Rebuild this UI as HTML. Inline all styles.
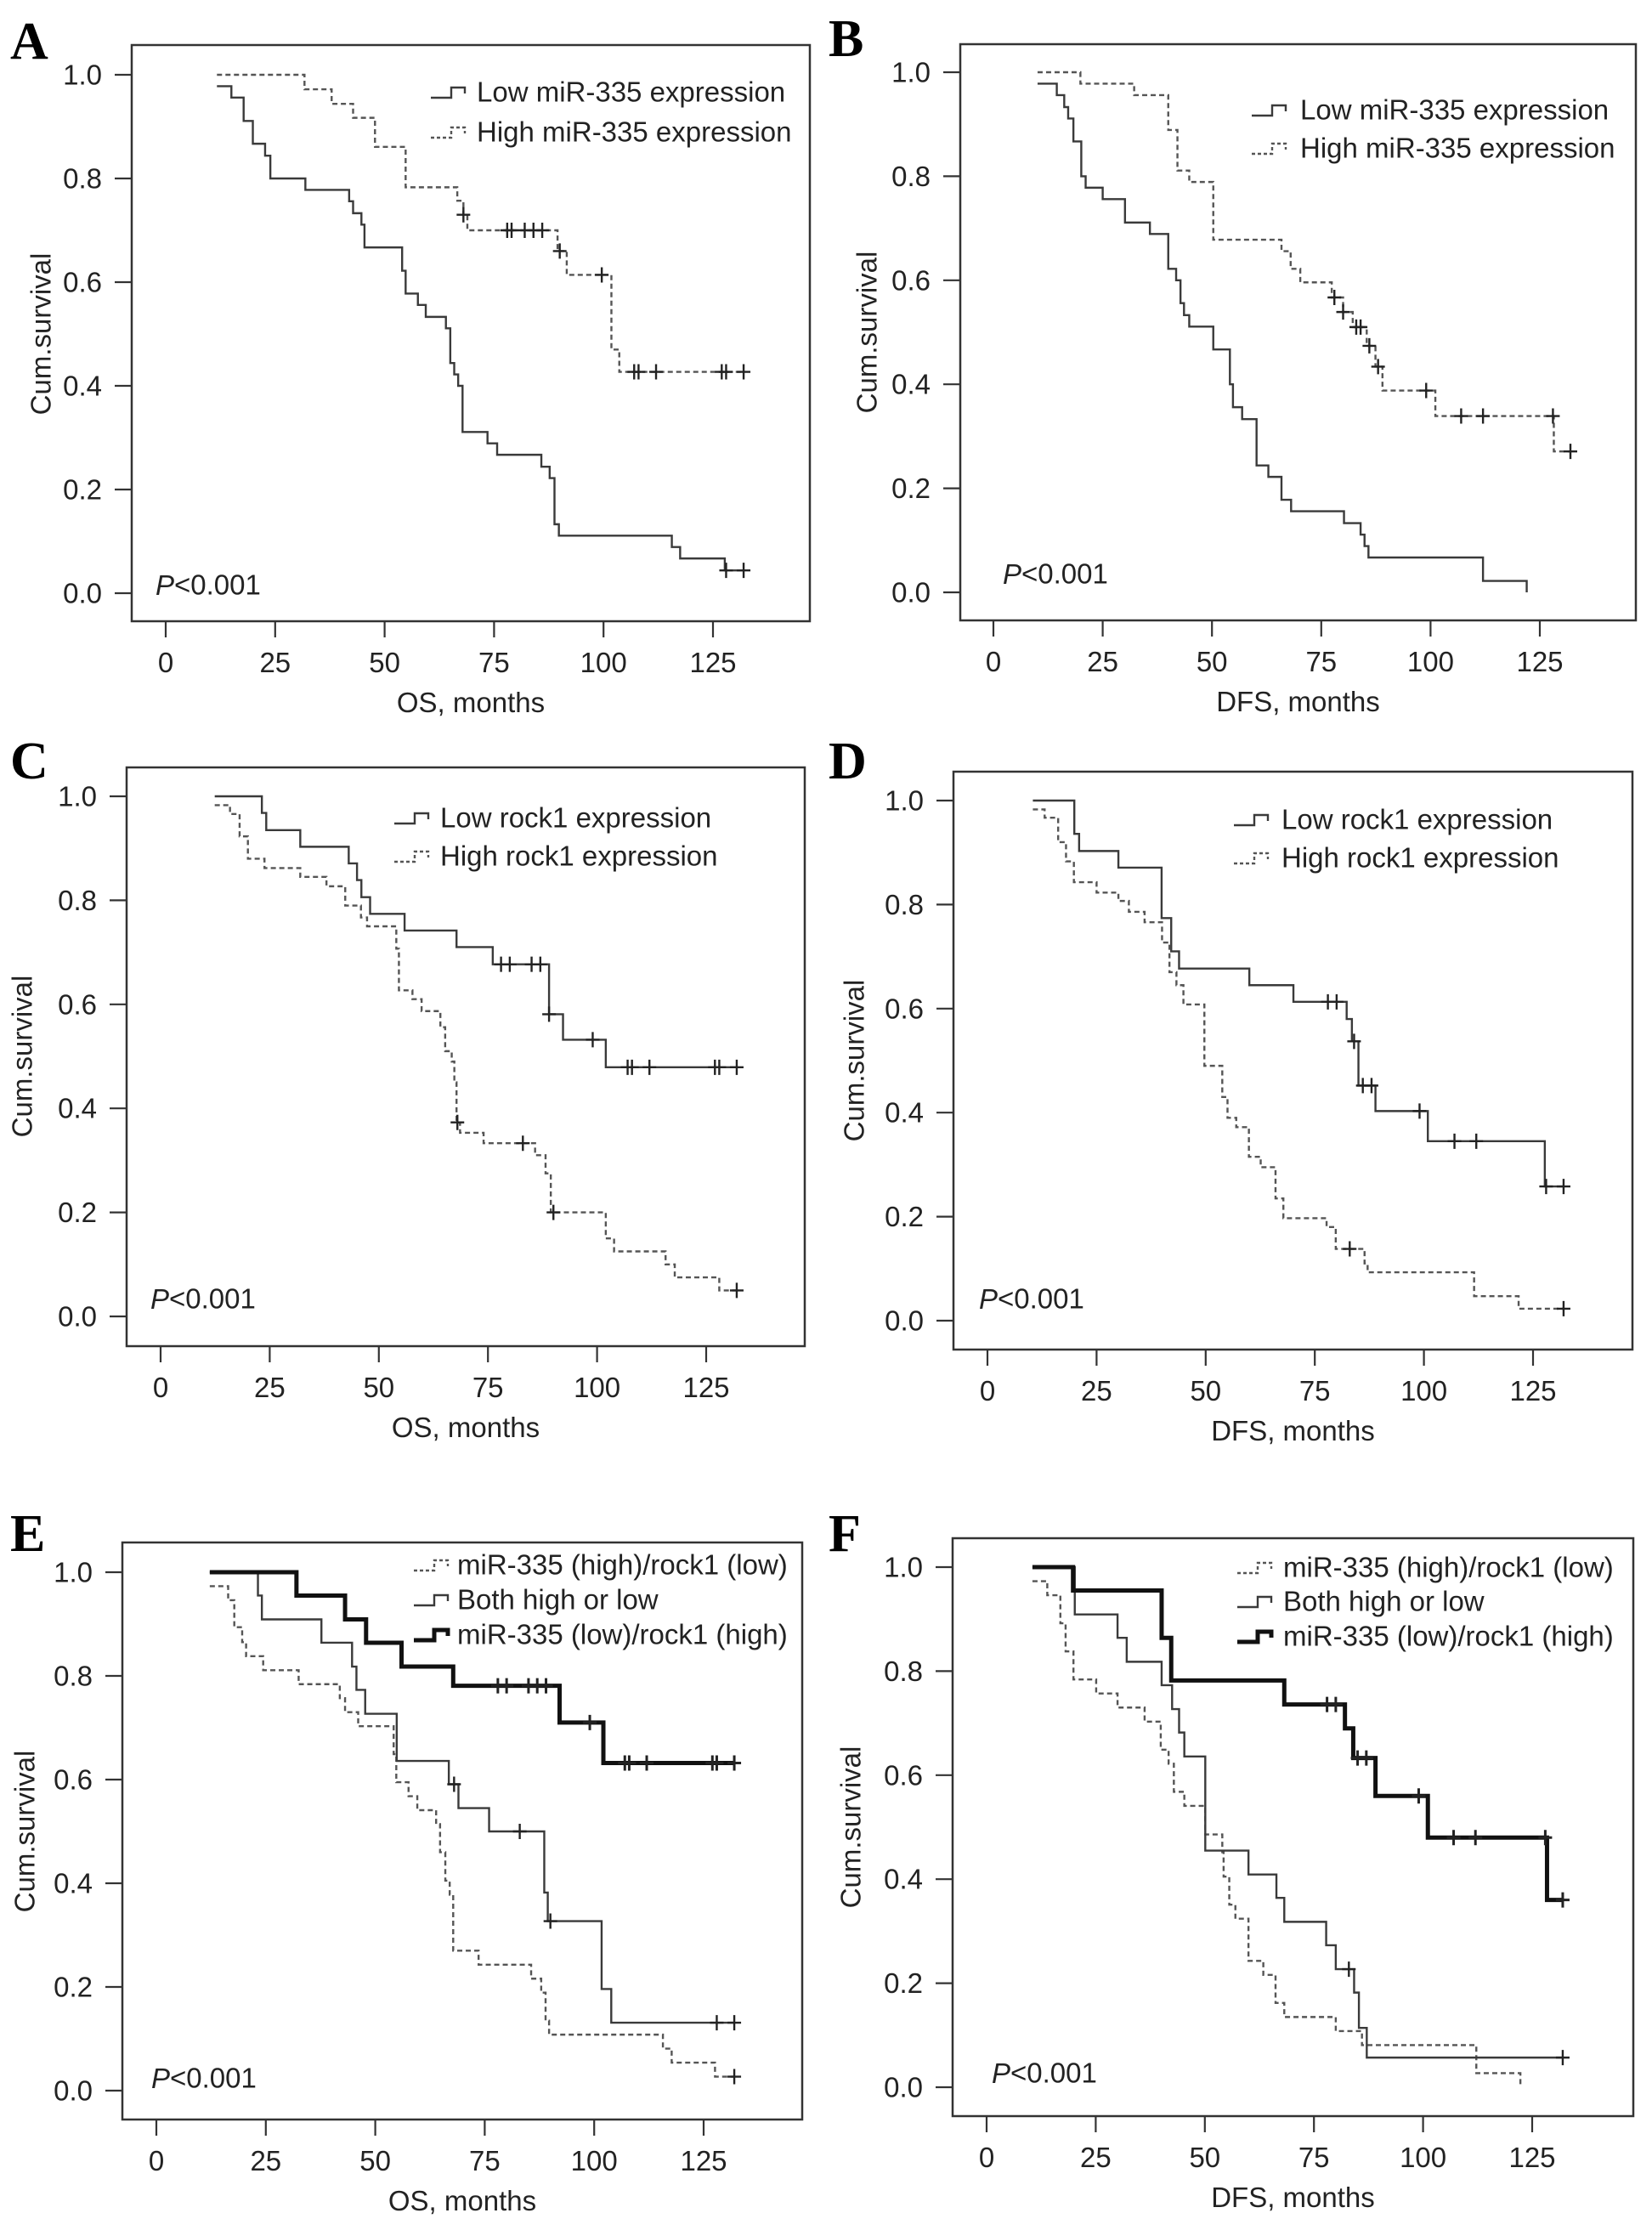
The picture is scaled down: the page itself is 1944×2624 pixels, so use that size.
<!DOCTYPE html>
<html><head><meta charset="utf-8"><style>
html,body{margin:0;padding:0;background:#fff;}
svg{display:block;font-family:"Liberation Sans",sans-serif;}
</style></head><body>
<svg id="fig" width="1944" height="2624" viewBox="0 0 1944 2624" xmlns="http://www.w3.org/2000/svg"></svg>
<script>
// ---- Data (months, survival) ----
const xTicks=[0,25,50,75,100,125];
const yTicks=[0.0,0.2,0.4,0.6,0.8,1.0];
// Panel A
const aLowT=[11.7,15,17.8,19.9,22.7,23.9,31.9,41.9,42.8,44.7,45.4,54,54.8,57.6,59.4,64,65,65.9,66.8,67.8,73.5,75.7,85.8,87.7,88.8,89.8,115.6,117.5,127.7];
const aLowS=[0.978,0.956,0.911,0.867,0.844,0.80,0.778,0.756,0.733,0.711,0.667,0.622,0.578,0.556,0.533,0.511,0.444,0.422,0.40,0.311,0.289,0.267,0.244,0.222,0.133,0.111,0.089,0.067,0.044];
const aLowC=[128,132];
const aHighT=[11.7,31.7,37.9,42.8,47.8,54.8,66.6,68,68.9,89.5,91.6,101.8,103.6];
const aHighS=[1.0,0.972,0.944,0.917,0.861,0.783,0.757,0.73,0.70,0.66,0.614,0.47,0.427];
const aHighC=[68,78,79,82,84,86,90,99.6,107,108,112,127,128,132];
// Panel B
const bLowT=[10.1,14.5,16.2,17.1,18.3,20.1,21.1,25,30.1,35.8,40,41.8,42.8,43.6,44.8,50.3,54.1,54.8,56.9,60.2,62.9,65.9,68.1,80.2,84,84.9,85.8,112,122];
const bLowS=[0.978,0.956,0.933,0.911,0.867,0.80,0.778,0.756,0.711,0.689,0.622,0.60,0.556,0.533,0.511,0.467,0.40,0.356,0.333,0.244,0.222,0.178,0.156,0.133,0.111,0.089,0.067,0.022,0.0];
const bLowC=[];
const bHighT=[10.1,19.9,32.2,40,42.1,44.8,50.3,65.9,68,70.2,77.4,80,82.2,85.4,87.4,89,101.1,128.2];
const bHighS=[1.0,0.978,0.956,0.889,0.811,0.789,0.678,0.656,0.622,0.596,0.567,0.539,0.51,0.474,0.434,0.388,0.339,0.271];
const bHighC=[78,80,83,84,86,88,99,107,112,128,132];
// Panel C
const cLowT=[12.4,23.2,24.2,32,43.1,45,46,48,55.9,67.8,76.1,89,92.2,102];
const cLowS=[1.0,0.968,0.935,0.903,0.871,0.839,0.806,0.774,0.742,0.71,0.677,0.581,0.532,0.479];
const cLowC=[78,80,85,87,89,99,107,108,112,127,128,132];
const cHighT=[12.4,15.9,18.1,20,23.8,32,38,42.3,45.9,47.3,54,54.6,57.7,59.8,64.1,65.2,66.7,67.3,67.8,68.6,74,85.8,88.2,89.4,102,103.9,115.7,117.8,128];
const cHighS=[0.983,0.966,0.923,0.88,0.862,0.845,0.827,0.79,0.767,0.75,0.707,0.627,0.61,0.587,0.556,0.51,0.49,0.45,0.373,0.353,0.333,0.31,0.275,0.20,0.15,0.125,0.10,0.075,0.05];
const cHighC=[68,83,90,132];
// Panel D
const dLowT=[10.4,19.9,21,30,39.9,42.1,43.9,60,70.1,82.3,83.5,85,88.9,100.9,127.7];
const dLowS=[1.0,0.936,0.903,0.871,0.774,0.71,0.677,0.645,0.613,0.58,0.537,0.452,0.403,0.345,0.258];
const dLowC=[78,80,84,86,88,99,107,112,128,132];
const dHighT=[10.4,13.1,16.2,18,19.8,25,30,32.4,36,40,41.7,43.3,44.9,49.7,53.8,55,57,59.9,62.6,66,67.8,77.7,79.8,86.4,87.1,111.5,121.7];
const dHighS=[0.983,0.967,0.92,0.883,0.843,0.823,0.807,0.786,0.766,0.727,0.67,0.645,0.608,0.49,0.43,0.39,0.372,0.315,0.295,0.235,0.197,0.18,0.138,0.11,0.093,0.047,0.023];
const dHighC=[83,132];
// Panel E
const eMixT=[12.2,16.4,17.8,19.6,20.5,24.4,32.5,41.9,43.1,46.1,54.2,54.8,57.6,59.6,63.9,64.8,66,67,67.8,73.6,85.6,87.9,88.9,89.7,115.7,117.7,127.6];
const eMixS=[0.973,0.946,0.894,0.865,0.838,0.811,0.784,0.757,0.73,0.703,0.649,0.595,0.568,0.541,0.514,0.46,0.405,0.378,0.27,0.243,0.216,0.189,0.135,0.108,0.081,0.054,0.027];
const eMixC=[132];
const eBothT=[12.2,23.2,24.1,37.7,44.7,45.7,47.7,54.9,66.8,69,76,88.6,89.4,101.7,103.9];
const eBothS=[1.0,0.955,0.909,0.864,0.818,0.773,0.727,0.636,0.591,0.545,0.50,0.382,0.327,0.196,0.131];
const eBothC=[68,83,90,128,132];
const eRevT=[12.2,32,43.1,47.9,56,67.8,92.1,102.1];
const eRevS=[1.0,0.955,0.909,0.864,0.818,0.781,0.71,0.632];
const eRevC=[78,80,85,87,89,99,107,108,112,127,128,132];
// Panel F
const fMixT=[10.5,13.9,16.9,18.1,19.9,25.1,30,36.2,39.9,41.7,42.9,45.3,50.1,54,54.3,55.6,57,60,63.4,66.2,68.2,80,86,112.2,122.3];
const fMixS=[0.973,0.946,0.892,0.838,0.784,0.757,0.73,0.703,0.649,0.622,0.568,0.541,0.486,0.452,0.405,0.351,0.324,0.243,0.216,0.162,0.135,0.108,0.081,0.027,0.0];
const fMixC=[];
const fBothT=[10.5,20.2,30,32.1,40.1,42.5,44.1,45.3,50.1,60,66.4,68.2,77.8,80,84.2,85.3,87.1];
const fBothS=[1.0,0.909,0.864,0.818,0.773,0.727,0.682,0.636,0.455,0.409,0.364,0.318,0.273,0.227,0.182,0.114,0.057];
const fBothC=[83,132];
const fRevT=[10.5,19.8,40.1,42.3,68.2,82.1,84,89.1,101.1,128.4];
const fRevS=[1.0,0.955,0.864,0.782,0.736,0.69,0.633,0.56,0.48,0.36];
const fRevC=[78,80,85,87,99,107,112,128,132];

const NS='http://www.w3.org/2000/svg';
const svg=document.getElementById('fig');
function mk(tag,attrs,parent){const e=document.createElementNS(NS,tag);for(const k in attrs)e.setAttribute(k,attrs[k]);(parent||svg).appendChild(e);return e;}

const SOLID={stroke:'#3a3a3a',width:2.4,dash:null};
const DASH={stroke:'#555',width:2.4,dash:'6 4'};
const THICK={stroke:'#111',width:5,dash:null};

const panels=[
 {id:'a',letter:'A',frame:[155,53,953,731],x0:195,x125:839,y1:88,y0:698,icon:507,text:561,rows:[108,155],p:[183,688],yt:48,lx:12,ly:69,xtitle:'OS, months',
  series:[{name:'Low miR-335 expression',t:aLowT,s:aLowS,c:aLowC,end:132,st:SOLID},{name:'High miR-335 expression',t:aHighT,s:aHighS,c:aHighC,end:132,st:DASH}]},
 {id:'b',letter:'B',frame:[1130,52,1925,730],x0:1169,x125:1812,y1:85,y0:697,icon:1473,text:1530,rows:[129,174],p:[1180,675],yt:1020,lx:975,ly:66,xtitle:'DFS, months',
  series:[{name:'Low miR-335 expression',t:bLowT,s:bLowS,c:bLowC,end:122,st:SOLID},{name:'High miR-335 expression',t:bHighT,s:bHighS,c:bHighC,end:132,st:DASH}]},
 {id:'c',letter:'C',frame:[149,903,947,1584],x0:189,x125:831,y1:937,y0:1549,icon:464,text:518,rows:[962,1007],p:[177,1528],yt:26,lx:12,ly:916,xtitle:'OS, months',
  series:[{name:'Low rock1 expression',t:cLowT,s:cLowS,c:cLowC,end:132,st:SOLID},{name:'High rock1 expression',t:cHighT,s:cHighS,c:cHighC,end:132,st:DASH}]},
 {id:'d',letter:'D',frame:[1122,908,1921,1588],x0:1162,x125:1804,y1:942,y0:1554,icon:1452,text:1508,rows:[964,1009],p:[1152,1528],yt:1005,lx:975,ly:916,xtitle:'DFS, months',
  series:[{name:'Low rock1 expression',t:dLowT,s:dLowS,c:dLowC,end:132,st:SOLID},{name:'High rock1 expression',t:dHighT,s:dHighS,c:dHighC,end:132,st:DASH}]},
 {id:'e',letter:'E',frame:[144,1815,944,2494],x0:184,x125:828,y1:1850,y0:2460,icon:487,text:538,rows:[1841,1882,1923],p:[178,2445],yt:29,lx:12,ly:1825,xtitle:'OS, months',
  series:[{name:'miR-335 (high)/rock1 (low)',t:eMixT,s:eMixS,c:eMixC,end:132,st:DASH},{name:'Both high or low',t:eBothT,s:eBothS,c:eBothC,end:132,st:SOLID},{name:'miR-335 (low)/rock1 (high)',t:eRevT,s:eRevS,c:eRevC,end:132,st:THICK}]},
 {id:'f',letter:'F',frame:[1121,1810,1922,2490],x0:1161,x125:1803,y1:1844,y0:2456,icon:1456,text:1510,rows:[1844,1884,1925],p:[1167,2439],yt:1001,lx:975,ly:1825,xtitle:'DFS, months',
  series:[{name:'miR-335 (high)/rock1 (low)',t:fMixT,s:fMixS,c:fMixC,end:122.3,st:DASH},{name:'Both high or low',t:fBothT,s:fBothS,c:fBothC,end:132,st:SOLID},{name:'miR-335 (low)/rock1 (high)',t:fRevT,s:fRevS,c:fRevC,end:132,st:THICK}]}
];

function survAt(t,s,time){let v=s[0];for(let i=0;i<t.length;i++){if(t[i]<=time+1e-9)v=s[i];}return v;}

panels.forEach(P=>{
  const g=mk('g',{});
  
  
  const X=m=>P.x0+(P.x125-P.x0)*m/125;
  const Y=v=>P.y0+(P.y1-P.y0)*v;
  const [l,t,r,b]=P.frame;
  const lt=mk('text',{x:P.lx,y:P.ly,'font-family':'"Liberation Serif",serif','font-weight':'bold','font-size':62,fill:'#000'},g);
  lt.textContent=P.letter;
  
  
  const fr=mk('rect',{x:l,y:t,width:r-l,height:b-t,fill:'none',stroke:'#333','stroke-width':2.5},g);
  
  
  yTicks.forEach(v=>{
    mk('line',{x1:l-20,x2:l,y1:Y(v),y2:Y(v),stroke:'#333','stroke-width':2.2},g);
    const tx=mk('text',{x:l-35,y:Y(v),'text-anchor':'end','dominant-baseline':'central','font-size':33,fill:'#222'},g);
    tx.textContent=v.toFixed(1);
    
    
  });
  xTicks.forEach(m=>{
    mk('line',{x1:X(m),x2:X(m),y1:b,y2:b+19,stroke:'#333','stroke-width':2.2},g);
    const tx=mk('text',{x:X(m),y:b+60,'text-anchor':'middle','font-size':33,fill:'#222'},g);
    tx.textContent=m;
    
    
  });
  const xt=mk('text',{x:(l+r)/2,y:b+107,'text-anchor':'middle','font-size':33,fill:'#222'},g);
  xt.textContent=P.xtitle;
  
  
  const cy=(P.y1+P.y0)/2;
  const yt=mk('text',{x:P.yt,y:cy,'text-anchor':'middle','dominant-baseline':'central','font-size':33,fill:'#222',transform:`rotate(-90 ${P.yt} ${cy})`},g);
  yt.textContent='Cum.survival';
  
  
  const pt=mk('text',{x:P.p[0],y:P.p[1],'dominant-baseline':'central','font-size':33,fill:'#222'},g);
  pt.innerHTML='<tspan font-style="italic">P</tspan>&lt;0.001';
  
  
  P.series.forEach((S,si)=>{
    let d=`M${X(S.t[0])},${Y(S.s[0])}`;
    for(let i=1;i<S.t.length;i++){d+=` H${X(S.t[i])} V${Y(S.s[i])}`;}
    d+=` H${X(S.end)}`;
    const a={d:d,fill:'none',stroke:S.st.stroke,'stroke-width':S.st.width};
    if(S.st.dash)a['stroke-dasharray']=S.st.dash;
    const path=mk('path',a,g);
    
    
    S.c.forEach(ct=>{
      const v=survAt(S.t,S.s,ct);
      const sw=S.st===THICK?3:2.4;
      const cm=mk('path',{d:`M${X(ct)},${Y(v)-9} V${Y(v)+9} M${X(ct)-8},${Y(v)} H${X(ct)+8}`,stroke:'#222','stroke-width':sw,fill:'none'},g);
      
      
    });
    // legend
    const ry=P.rows[si], ix=P.icon;
    const la={d:`M${ix},${ry+7} H${ix+24} V${ry-5} H${ix+40} V${ry+2}`,fill:'none',stroke:S.st.stroke,'stroke-width':S.st.width};
    if(S.st.dash)la['stroke-dasharray']='4 3';
    const li=mk('path',la,g);
    
    
    const lt2=mk('text',{x:P.text,y:ry,'dominant-baseline':'central','font-size':33,fill:'#222'},g);
    lt2.textContent=S.name;
    
    
  });
});
</script>
</body></html>
